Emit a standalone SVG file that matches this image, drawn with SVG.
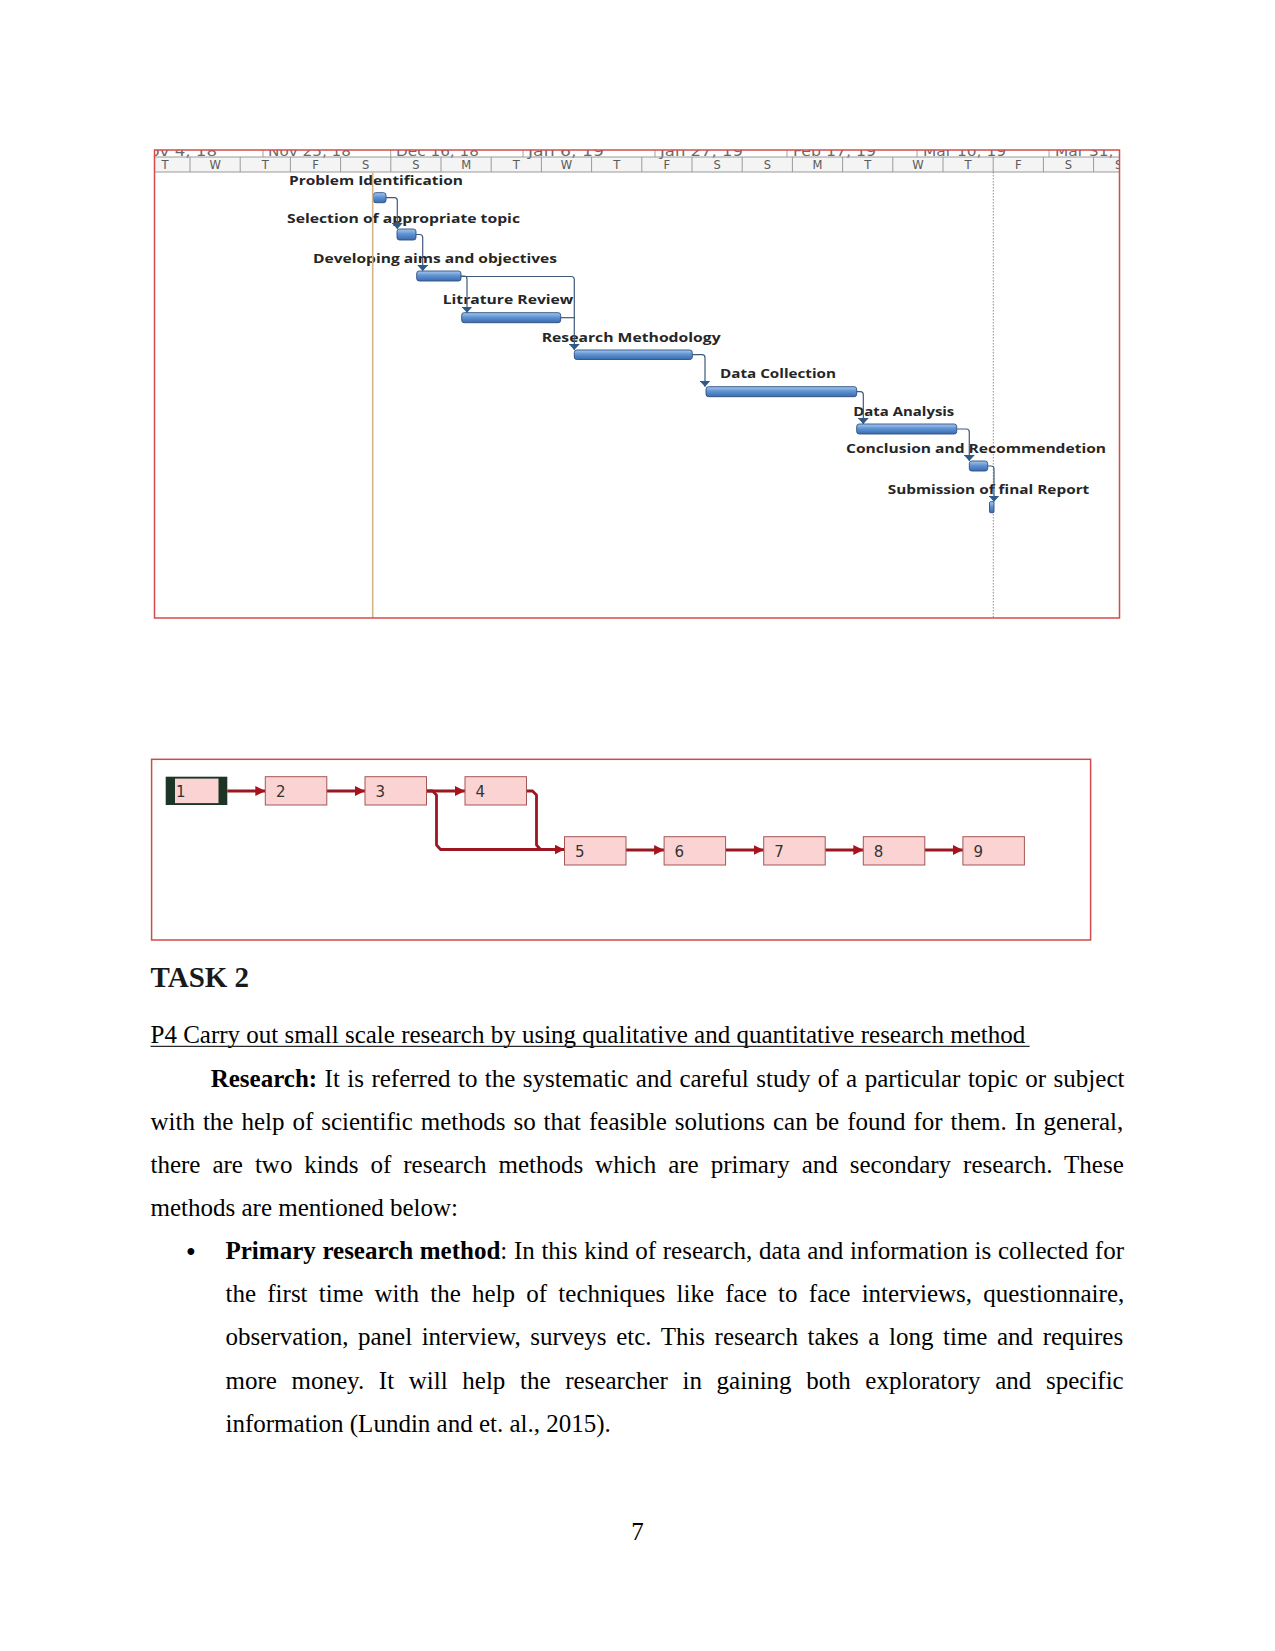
<svg xmlns="http://www.w3.org/2000/svg" width="1275" height="1651" viewBox="0 0 1275 1651">
<style>
.lbl{font-family:"Open Sans","DejaVu Sans",sans-serif;font-weight:bold;font-size:12.8px;fill:#262626}
.day{font-family:"DejaVu Sans","Noto Sans",sans-serif;font-size:11.5px;fill:#5a5a5a;text-anchor:middle}
.date{font-family:"DejaVu Sans","Noto Sans",sans-serif;font-size:14px;fill:#6a6a6a}
.bar{fill:url(#barGrad);stroke:#2c4f80;stroke-width:0.9}
.gcon{fill:none;stroke:#3d5a7a;stroke-width:1.2;marker-end:url(#gArrow)}
.gcon2{fill:none;stroke:#3d5a7a;stroke-width:1.2}
.box{fill:#fcd3d3;stroke:#a35656;stroke-width:1}
.num{font-family:"DejaVu Sans","Noto Sans",sans-serif;font-size:15px;fill:#333}
.ncon{fill:none;stroke:#9b1620;stroke-width:2.8;stroke-linejoin:round;marker-end:url(#nArrow)}
.ncon2{fill:none;stroke:#9b1620;stroke-width:2.8;stroke-linejoin:round}
.body{font-family:"Liberation Serif","Times New Roman",serif;font-size:25px;fill:#000}
</style>
<defs>
<linearGradient id="barGrad" x1="0" y1="0" x2="0" y2="1">
<stop offset="0" stop-color="#a8c8ee"/>
<stop offset="0.45" stop-color="#5f93d3"/>
<stop offset="1" stop-color="#3b6cad"/>
</linearGradient>
<marker id="gArrow" viewBox="0 0 6 11" refX="6" refY="5.5" markerWidth="6" markerHeight="11" markerUnits="userSpaceOnUse" orient="auto">
<path d="M0,0 L6,5.5 L0,11 Z" fill="#2e5a88"/>
</marker>
<marker id="nArrow" viewBox="0 0 10 10" refX="10" refY="5" markerWidth="10" markerHeight="10" markerUnits="userSpaceOnUse" orient="auto">
<path d="M0,0 L10,5 L0,10 Z" fill="#a8121c"/>
</marker>
<clipPath id="gclip"><rect x="155" y="150" width="964" height="468"/></clipPath>
</defs>
<rect width="1275" height="1651" fill="#fff"/>

<!-- Gantt chart -->
<g id="gantt">
<g clip-path="url(#gclip)">
<rect x="155" y="157" width="964" height="15" fill="#f4f4f4"/>
<g id="gantt-dates">
<text class="date" x="137" y="156" textLength="80" lengthAdjust="spacingAndGlyphs">Nov 4, 18</text>
<text class="date" x="268" y="156" textLength="83" lengthAdjust="spacingAndGlyphs">Nov 25, 18</text>
<text class="date" x="396" y="156" textLength="83" lengthAdjust="spacingAndGlyphs">Dec 16, 18</text>
<text class="date" x="528" y="156" textLength="76" lengthAdjust="spacingAndGlyphs">Jan 6, 19</text>
<text class="date" x="660" y="156" textLength="83" lengthAdjust="spacingAndGlyphs">Jan 27, 19</text>
<text class="date" x="793" y="156" textLength="83" lengthAdjust="spacingAndGlyphs">Feb 17, 19</text>
<text class="date" x="923" y="156" textLength="83" lengthAdjust="spacingAndGlyphs">Mar 10, 19</text>
<text class="date" x="1055" y="156" textLength="83" lengthAdjust="spacingAndGlyphs">Mar 31, 19</text>
</g>
<path d="M263,150V157 M390.7,150V157 M523,150V157 M655,150V157 M787,150V157 M917,150V157 M1049,150V157" stroke="#a0a0a0" stroke-width="1"/>
<path d="M155,157H1119 M155,172H1119" stroke="#9a9a9a" stroke-width="1"/>
<path d="M190,157V172 M240.2,157V172 M290.4,157V172 M340.6,157V172 M390.8,157V172 M441,157V172 M491.2,157V172 M541.4,157V172 M591.6,157V172 M641.8,157V172 M692,157V172 M742.2,157V172 M792.4,157V172 M842.6,157V172 M892.8,157V172 M943,157V172 M993.2,157V172 M1043.4,157V172 M1093.6,157V172" stroke="#9a9a9a" stroke-width="1"/>
<g id="gantt-days">
<text class="day" x="164.9" y="169">T</text>
<text class="day" x="215.1" y="169">W</text>
<text class="day" x="265.3" y="169">T</text>
<text class="day" x="315.5" y="169">F</text>
<text class="day" x="365.7" y="169">S</text>
<text class="day" x="415.9" y="169">S</text>
<text class="day" x="466.1" y="169">M</text>
<text class="day" x="516.3" y="169">T</text>
<text class="day" x="566.5" y="169">W</text>
<text class="day" x="616.7" y="169">T</text>
<text class="day" x="666.9" y="169">F</text>
<text class="day" x="717.1" y="169">S</text>
<text class="day" x="767.3" y="169">S</text>
<text class="day" x="817.5" y="169">M</text>
<text class="day" x="867.7" y="169">T</text>
<text class="day" x="917.9" y="169">W</text>
<text class="day" x="968.1" y="169">T</text>
<text class="day" x="1018.3" y="169">F</text>
<text class="day" x="1068.5" y="169">S</text>
<text class="day" x="1118.7" y="169">S</text>
</g>
<line x1="993.3" y1="172" x2="993.3" y2="618" stroke="#8c8c8c" stroke-width="1" stroke-dasharray="1.5,1.5"/>
</g>

<g id="task1"><text class="lbl" x="289" y="185" textLength="174" lengthAdjust="spacingAndGlyphs">Problem Identification</text><rect class="bar" x="373.3" y="192.7" width="12.7" height="10" rx="2.5"/></g>
<g id="task2"><text class="lbl" x="287" y="222.7" textLength="233" lengthAdjust="spacingAndGlyphs">Selection of appropriate topic</text><rect class="bar" x="397" y="229" width="19" height="11" rx="2.5"/></g>
<g id="task3"><text class="lbl" x="313" y="263.3" textLength="244" lengthAdjust="spacingAndGlyphs">Developing aims and objectives</text><rect class="bar" x="416.7" y="271" width="44.3" height="10" rx="2.5"/></g>
<g id="task4"><text class="lbl" x="442.7" y="304" textLength="130.6" lengthAdjust="spacingAndGlyphs">Litrature Review</text><rect class="bar" x="461.7" y="312.7" width="99" height="10" rx="2.5"/></g>
<g id="task5"><text class="lbl" x="541.7" y="341.7" textLength="179" lengthAdjust="spacingAndGlyphs">Research Methodology</text><rect class="bar" x="574.3" y="350" width="118" height="9.5" rx="2.5"/></g>
<g id="task6"><text class="lbl" x="720" y="378.3" textLength="116" lengthAdjust="spacingAndGlyphs">Data Collection</text><rect class="bar" x="706" y="386.7" width="150.7" height="10" rx="2.5"/></g>
<g id="task7"><text class="lbl" x="853.3" y="415.7" textLength="101" lengthAdjust="spacingAndGlyphs">Data Analysis</text><rect class="bar" x="856.7" y="424" width="100" height="10" rx="2.5"/></g>
<g id="task8"><text class="lbl" x="846" y="452.7" textLength="260" lengthAdjust="spacingAndGlyphs">Conclusion and Recommendetion</text><rect class="bar" x="969.3" y="461" width="18.4" height="10" rx="2.5"/></g>
<g id="task9"><text class="lbl" x="887.7" y="494" textLength="201.6" lengthAdjust="spacingAndGlyphs">Submission of final Report</text><rect class="bar" x="989.5" y="501.7" width="4.5" height="11" rx="1"/></g>

<g id="gantt-connectors">
<path class="gcon" d="M386,197.7 H394.3 Q397.3,197.7 397.3,200.7 V229"/>
<path class="gcon" d="M416,234.5 H419.7 Q422.7,234.5 422.7,237.5 V271"/>
<path class="gcon" d="M461,276 H464 Q467,276 467,279 V312.7"/>
<path class="gcon" d="M461,276.5 H571.3 Q574.3,276.5 574.3,279.5 V350"/>
<path class="gcon2" d="M560.7,317.7 H574.3"/>
<path class="gcon" d="M692.3,354.7 H702 Q705,354.7 705,357.7 V386.7"/>
<path class="gcon" d="M856.7,391.7 H860.3 Q863.3,391.7 863.3,394.7 V424"/>
<path class="gcon" d="M956.7,429 H966.3 Q969.3,429 969.3,432 V461"/>
<path class="gcon" d="M987.7,466 H991 Q994,466 994,469 V501.7"/>
</g>
<line x1="372.7" y1="172" x2="372.7" y2="618" stroke="#d6b48a" stroke-width="1.6"/>
<rect x="154.5" y="150" width="965" height="468" fill="none" stroke="#d64b4b" stroke-width="1.5"/>
</g>

<!-- Network diagram -->
<g id="network">
<rect x="151.6" y="759.3" width="939" height="180.7" fill="none" stroke="#d04a4a" stroke-width="1.5"/>
<g id="network-connectors">
<path class="ncon" d="M227.3,791 H265.3"/>
<path class="ncon" d="M326.8,791 H365"/>
<path class="ncon" d="M426.5,791 H465"/>
<path class="ncon" d="M426.5,791 H432.5 L436.5,795 V845 L440.5,849.5 H564.5"/>
<path class="ncon2" d="M526.5,791 H532.5 L536.5,795 V845 L540.5,849.5"/>
<path class="ncon" d="M626,850 H664.1"/>
<path class="ncon" d="M725.6,850 H763.7"/>
<path class="ncon" d="M825.2,850 H863.3"/>
<path class="ncon" d="M924.8,850 H962.9"/>
</g>
<g id="n1"><rect x="165.7" y="776.7" width="61.6" height="28.3" fill="#1d3527"/><rect x="175" y="778.6" width="43.5" height="24.5" fill="#fcd3d3"/><text class="num" x="176" y="797">1</text></g>
<g id="n2"><rect class="box" x="265.3" y="776.7" width="61.5" height="28.3"/><text class="num" x="276" y="797">2</text></g>
<g id="n3"><rect class="box" x="365" y="776.7" width="61.5" height="28.3"/><text class="num" x="375.5" y="797">3</text></g>
<g id="n4"><rect class="box" x="465" y="776.7" width="61.5" height="28.3"/><text class="num" x="475.5" y="797">4</text></g>
<g id="n5"><rect class="box" x="564.5" y="836.7" width="61.5" height="28.3"/><text class="num" x="575" y="856.5">5</text></g>
<g id="n6"><rect class="box" x="664.1" y="836.7" width="61.5" height="28.3"/><text class="num" x="674.6" y="856.5">6</text></g>
<g id="n7"><rect class="box" x="763.7" y="836.7" width="61.5" height="28.3"/><text class="num" x="774.2" y="856.5">7</text></g>
<g id="n8"><rect class="box" x="863.3" y="836.7" width="61.5" height="28.3"/><text class="num" x="873.8" y="856.5">8</text></g>
<g id="n9"><rect class="box" x="962.9" y="836.7" width="61.5" height="28.3"/><text class="num" x="973.4" y="856.5">9</text></g>
</g>

<!-- Text body -->
<g id="text-body">
<text x="150.5" y="986.7" font-family="Liberation Serif, Times New Roman, serif" font-weight="bold" font-size="29" fill="#1a1a1a">TASK 2</text>
<text class="body" x="150.5" y="1043.3" fill="#2a2a2a">P4 Carry out small scale research by using qualitative and quantitative research method</text>
<line x1="150.5" y1="1046.3" x2="1029.6" y2="1046.3" stroke="#2a2a2a" stroke-width="1.3"/>
<text class="body" x="210.7" y="1086.6" word-spacing="1.2"><tspan font-weight="bold">Research:</tspan> It is referred to the systematic and careful study of a particular topic or subject</text>
<text class="body" x="150.5" y="1129.8" word-spacing="1.7">with the help of scientific methods so that feasible solutions can be found for them. In general,</text>
<text class="body" x="150.5" y="1173" word-spacing="5.7">there are two kinds of research methods which are primary and secondary research. These</text>
<text class="body" x="150.5" y="1216.2">methods are mentioned below:</text>
<text class="body" x="186.5" y="1260" font-size="32" font-weight="bold">•</text>
<text class="body" x="225.5" y="1259" word-spacing="0.4"><tspan font-weight="bold">Primary research method</tspan>: In this kind of research, data and information is collected for</text>
<text class="body" x="225.5" y="1302.2" word-spacing="5">the first time with the help of techniques like face to face interviews, questionnaire,</text>
<text class="body" x="225.5" y="1345.4" word-spacing="3.3">observation, panel interview, surveys etc. This research takes a long time and requires</text>
<text class="body" x="225.5" y="1388.6" word-spacing="8.4">more money. It will help the researcher in gaining both exploratory and specific</text>
<text class="body" x="225.5" y="1431.8">information (Lundin and et. al., 2015).</text>
<text class="body" x="637.5" y="1540" text-anchor="middle">7</text>
</g>
</svg>
